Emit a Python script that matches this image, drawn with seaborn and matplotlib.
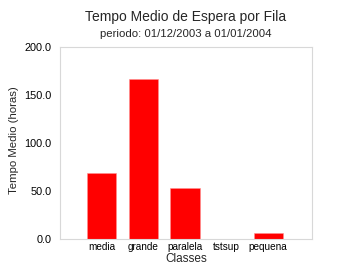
import matplotlib
matplotlib.use("Agg")
import matplotlib.pyplot as plt
import seaborn as sns
import pandas as pd

categories = ["media", "grande", "paralela", "tstsup", "pequena"]
values = [68.4, 166.7, 53.4, 0.3, 6.6]
yticks = [0, 50, 100, 150, 200]
ytick_labels = ["0.0", "50.0", "100.0", "150.0", "200.0"]

sns.set_style("white")
plt.rcParams["font.family"] = ["Liberation Sans", "DejaVu Sans"]

df = pd.DataFrame({"Classes": categories, "Tempo": values})

W, H = 362, 280
fig = plt.figure(figsize=(W / 100, H / 100), dpi=100)
ax = fig.add_axes([60 / W, (H - 239) / H, 252 / W, 192 / H])

sns.barplot(data=df, x="Classes", y="Tempo", color="#ff0000", saturation=1,
            width=0.7, ax=ax, edgecolor="#ff9090", linewidth=0.4)

ax.set_xlim(-1.0, 5.05)
ax.set_ylim(0, 200)
ax.set_yticks(yticks)
ax.set_yticklabels(ytick_labels)
ax.tick_params(axis="both", length=0, colors="black")
ax.tick_params(axis="y", pad=6, labelsize=7.8)
ax.tick_params(axis="x", pad=2, labelsize=7.2)
for s in ax.spines.values():
    s.set_color("#d8d8d8")
    s.set_linewidth(0.8)

ax.set_xlabel("Classes", fontsize=8.5, labelpad=1)
ax.set_ylabel("Tempo Medio (horas)", fontsize=8.2)
ax.yaxis.set_label_coords(-41 / 252, 0.515)

cx = (60 + 126) / W
fig.text(cx, 1 - 17 / H, "Tempo Medio de Espera por Fila", ha="center", va="center", fontsize=10)
fig.text(cx, 1 - 34 / H, "periodo: 01/12/2003 a 01/01/2004", ha="center", va="center", fontsize=8.2)

fig.savefig("out.png", dpi=100)
